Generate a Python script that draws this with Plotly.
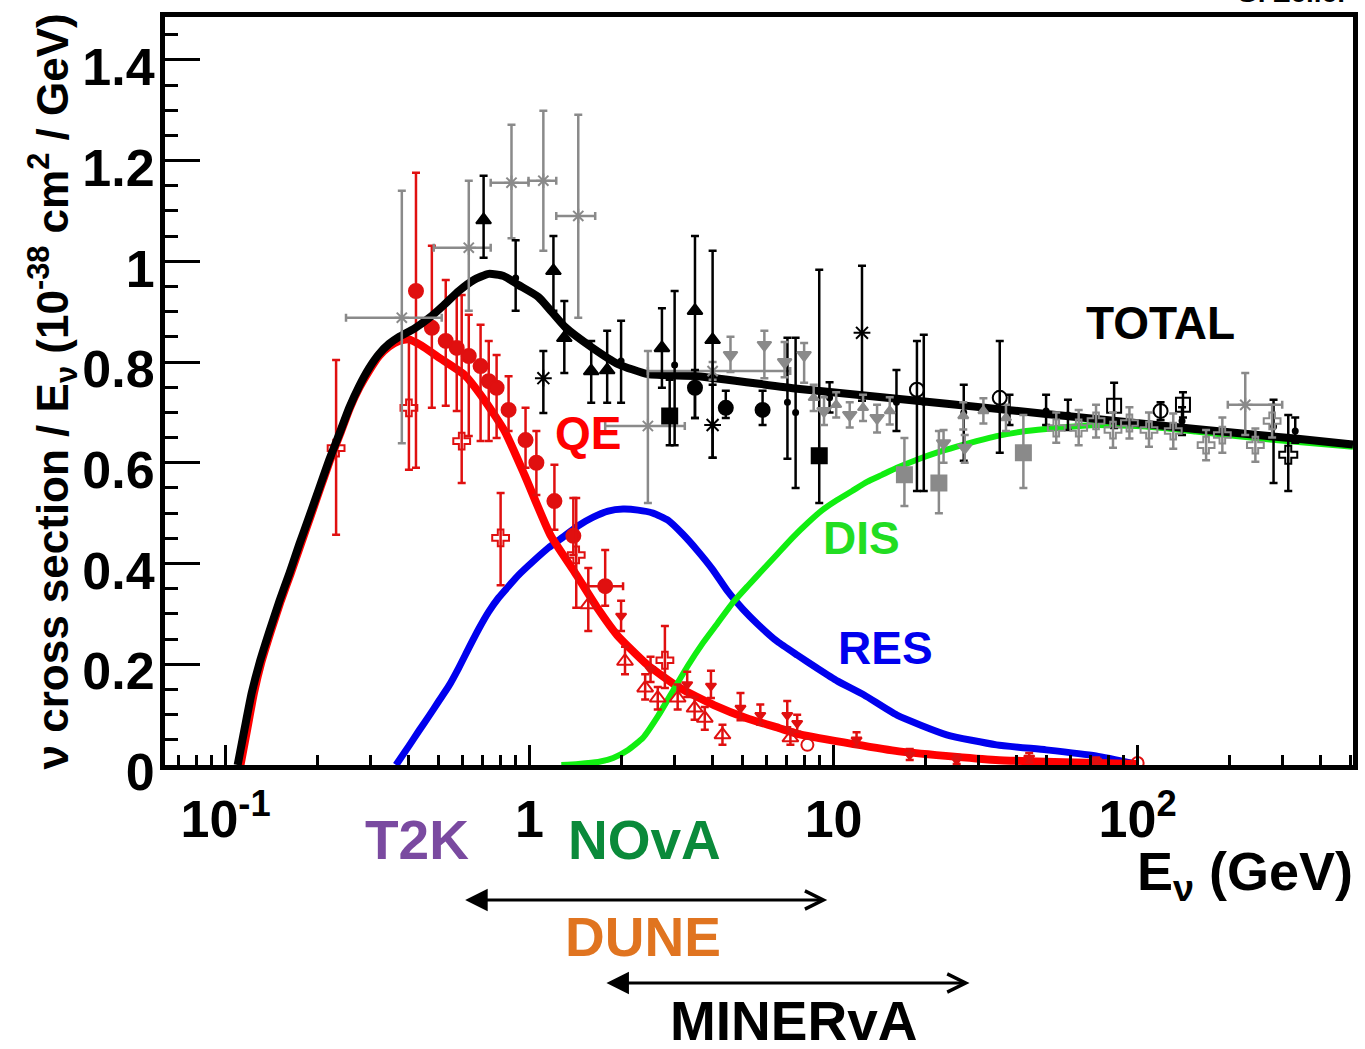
import numpy as np
import plotly.graph_objects as go

FONT = "Liberation Sans"
RED = "#ff0000"
RED_D = "#e01010"
BLUE = "#0000ee"
GREEN = "#11ee11"
GRAY = "#8a8a8a"
BLACK = "#000000"

# ---------------- model predictions (E in GeV, sigma/E in 1e-38 cm^2/GeV) ----------------
total_E = [0.1096, 0.1156, 0.1219, 0.1294, 0.1395, 0.1505, 0.1623, 0.1750, 0.1887, 0.2034,
           0.2194, 0.2366, 0.2551, 0.2750, 0.2966, 0.3198, 0.3449, 0.3720, 0.4166, 0.4665,
           0.5224, 0.5850, 0.6551, 0.7333, 0.8213, 0.9195, 1.07, 1.311, 1.595, 1.955, 2.452,
           3.574, 7.60, 16.16, 34.35, 73.0, 155, 330, 511]
total_xs = [0.0, 0.073, 0.143, 0.203, 0.266, 0.326, 0.381, 0.439, 0.494, 0.550,
            0.606, 0.657, 0.709, 0.752, 0.788, 0.816, 0.836, 0.850, 0.866, 0.887,
            0.913, 0.941, 0.963, 0.975, 0.971, 0.953, 0.929, 0.869, 0.830, 0.796, 0.776,
            0.772, 0.747, 0.727, 0.707, 0.687, 0.667, 0.648, 0.636]

qe_E = [0.1120, 0.1180, 0.1240, 0.1310, 0.1410, 0.1520, 0.1640, 0.1770, 0.1905, 0.2050,
        0.2210, 0.2380, 0.2565, 0.2760, 0.2970, 0.3200, 0.3450, 0.3720, 0.400, 0.440,
        0.50, 0.612, 0.713, 0.828, 0.964, 1.17, 1.40, 1.67, 1.94, 2.44, 3.12, 4.04, 5.18,
        6.64, 7.60, 16.0, 34.1, 72.5, 100]
qe_xs = [0.0, 0.073, 0.143, 0.203, 0.266, 0.326, 0.381, 0.439, 0.494, 0.550,
         0.606, 0.657, 0.709, 0.750, 0.783, 0.812, 0.831, 0.842, 0.845, 0.833,
         0.810, 0.774, 0.723, 0.663, 0.575, 0.457, 0.385, 0.312, 0.258, 0.199, 0.153,
         0.119, 0.093, 0.073, 0.062, 0.028, 0.010, 0.004, 0.002]

res_E = [0.3636, 0.4011, 0.4326, 0.4665, 0.5030, 0.5425, 0.5850, 0.6308, 0.6803, 0.7333,
         0.7908, 0.8530, 0.9195, 1.030, 1.153, 1.291, 1.446, 1.620, 1.813, 2.030, 2.274,
         2.546, 2.851, 3.193, 3.574, 4.003, 4.482, 5.019, 5.620, 6.535, 7.600, 8.836,
         10.27, 12.60, 16.16, 23.55, 34.35, 50.07, 73.02, 98.7]
res_xs = [0.0, 0.038, 0.068, 0.097, 0.127, 0.157, 0.193, 0.232, 0.270, 0.304,
          0.332, 0.355, 0.377, 0.405, 0.431, 0.453, 0.475, 0.492, 0.504, 0.508, 0.506,
          0.500, 0.486, 0.458, 0.425, 0.388, 0.345, 0.310, 0.280, 0.245, 0.218, 0.192,
          0.167, 0.139, 0.099, 0.060, 0.040, 0.030, 0.018, 0.002]

dis_E = [1.272, 1.446, 1.681, 1.883, 2.109, 2.361, 2.644, 2.961, 3.316, 3.713, 4.158, 4.656,
         5.212, 5.837, 6.536, 7.317, 8.196, 9.178, 10.27, 11.51, 12.88, 14.43, 16.16, 18.79,
         21.84, 25.40, 29.53, 34.35, 43.06, 54.00, 73.02, 106.4, 155.3, 283.8, 511]
dis_xs = [0.0, 0.002, 0.006, 0.014, 0.030, 0.054, 0.097, 0.147, 0.197, 0.242, 0.282, 0.322,
          0.355, 0.387, 0.419, 0.451, 0.480, 0.506, 0.526, 0.544, 0.562, 0.576, 0.590, 0.606,
          0.620, 0.632, 0.643, 0.653, 0.663, 0.669, 0.675, 0.672, 0.662, 0.645, 0.632]

# ---------------- QE measurements (red) ----------------
qe_circ_E = [0.423, 0.477, 0.530, 0.576, 0.631, 0.690, 0.734, 0.779, 0.853, 0.970, 1.053, 1.207, 1.393]
qe_circ_y = [0.941, 0.868, 0.842, 0.828, 0.812, 0.792, 0.762, 0.749, 0.705, 0.645, 0.600, 0.524, 0.455]
qe_circ_hi = [1.176, 1.031, 0.963, 0.933, 0.894, 0.874, 0.842, 0.814, 0.772, 0.709, 0.663, 0.596, 0.530]
qe_circ_lo = [0.590, 0.709, 0.713, 0.703, 0.653, 0.643, 0.643, 0.649, 0.663, 0.590, 0.536, 0.467, 0.417]

qe_bin_E = [1.773]
qe_bin_y = [0.355]
qe_bin_hi = [0.427]
qe_bin_lo = [0.316]
qe_bin_Elo = [1.557]
qe_bin_Ehi = [2.03]

qe_cross_E = [0.231, 0.401, 0.598, 0.803, 1.424, 2.787]
qe_cross_y = [0.629, 0.709, 0.643, 0.451, 0.417, 0.208]
qe_cross_hi = [0.804, 0.842, 0.933, 0.540, 0.530, 0.276]
qe_cross_lo = [0.457, 0.586, 0.560, 0.357, 0.312, 0.153]

qe_tri_E = [1.56, 2.06, 2.40, 2.64, 3.07, 3.49, 3.77, 4.31, 7.21]
qe_tri_y = [0.318, 0.206, 0.153, 0.133, 0.133, 0.113, 0.093, 0.060, 0.054]
qe_tri_hi = [0.391, 0.235, 0.180, 0.155, 0.160, 0.135, 0.115, 0.080, 0.070]
qe_tri_lo = [0.266, 0.180, 0.130, 0.110, 0.110, 0.090, 0.070, 0.040, 0.040]

qe_dn_E = [2.00, 2.50, 3.30, 3.95, 4.94, 5.74, 7.04, 7.59, 11.9, 17.8, 25.4, 44.0, 73.1]
qe_dn_y = [0.296, 0.190, 0.160, 0.157, 0.113, 0.099, 0.099, 0.083, 0.050, 0.020, 0.010, 0.014, 0.008]
qe_dn_hi = [0.326, 0.215, 0.185, 0.187, 0.143, 0.120, 0.127, 0.100, 0.065, 0.032, 0.020, 0.024, 0.015]
qe_dn_lo = [0.266, 0.165, 0.135, 0.133, 0.089, 0.080, 0.075, 0.066, 0.036, 0.010, 0.002, 0.005, 0.002]

qe_oc_E = [8.2, 100]
qe_oc_y = [0.040, 0.004]

# ---------------- total cross-section measurements (black / gray) ----------------
tot_gx_E = [0.380, 0.631, 0.872, 1.11, 1.446, 2.45, 4.0, 226]
tot_gx_y = [0.888, 1.027, 1.156, 1.160, 1.090, 0.673, 0.782, 0.715]
tot_gx_hi = [1.140, 1.160, 1.271, 1.299, 1.291, 0.822, 0.800, 0.778]
tot_gx_lo = [0.639, 0.902, 1.046, 1.021, 0.888, 0.520, 0.765, 0.655]
tot_gx_Elo = [0.249, 0.484, 0.745, 0.992, 1.224, 1.773, 2.45, 198]
tot_gx_Ehi = [0.514, 0.745, 0.992, 1.224, 1.644, 3.24, 7.2, 299]

tot_tri_E = [0.706, 1.198, 1.301, 1.595, 1.80, 2.725, 3.50, 4.00]
tot_tri_y = [1.082, 0.981, 0.848, 0.782, 0.784, 0.828, 0.902, 0.844]
tot_tri_hi = [1.170, 1.050, 0.921, 0.842, 0.862, 0.907, 1.050, 1.021]
tot_tri_lo = [1.007, 0.902, 0.778, 0.719, 0.719, 0.749, 0.689, 0.610]

tot_dot_E = [0.90, 2.0, 3.0, 7.05, 7.5, 9.7, 16.1, 19.8, 26.8, 37.9, 50, 59, 140, 280, 330]
tot_dot_y = [0.967, 0.802, 0.794, 0.720, 0.700, 0.729, 0.720, 0.720, 0.700, 0.703, 0.703,
             0.695, 0.683, 0.672, 0.663]
tot_dot_hi = [1.042, 0.882, 0.941, 0.848, 0.848, 0.760, 0.784, 0.854, 0.755, 0.735, 0.735,
              0.725, 0.710, 0.725, 0.690]
tot_dot_lo = [0.902, 0.719, 0.635, 0.608, 0.550, 0.700, 0.663, 0.544, 0.604, 0.675, 0.675,
              0.665, 0.655, 0.560, 0.640]

tot_star_E = [1.11, 4.0, 12.4]
tot_star_y = [0.768, 0.675, 0.858]
tot_star_hi = [0.822, 0.755, 0.991]
tot_star_lo = [0.699, 0.610, 0.723]

tot_circ_E = [3.50, 4.42, 5.84]
tot_circ_y = [0.749, 0.709, 0.705]
tot_circ_hi = [0.784, 0.743, 0.743]
tot_circ_lo = [0.689, 0.689, 0.675]

tot_sq_E = [2.89, 8.97]
tot_sq_y = [0.693, 0.614]
tot_sq_hi = [0.765, 0.983]
tot_sq_lo = [0.635, 0.520]

tot_gsq_E = [17.1, 22.2, 42.1]
tot_gsq_y = [0.576, 0.560, 0.620]
tot_gsq_hi = [0.649, 0.663, 0.695]
tot_gsq_lo = [0.514, 0.500, 0.550]

tot_gdn_E = [4.58, 5.92, 6.9, 8.0, 9.3, 11.3, 13.9, 23.0, 27.0]
tot_gdn_y = [0.814, 0.834, 0.800, 0.814, 0.703, 0.695, 0.689, 0.639, 0.630]
tot_gdn_hi = [0.850, 0.862, 0.840, 0.838, 0.730, 0.720, 0.715, 0.665, 0.655]
tot_gdn_lo = [0.780, 0.768, 0.770, 0.759, 0.675, 0.670, 0.660, 0.600, 0.600]

tot_gup_E = [8.6, 10.2, 12.5, 15.3, 26.7, 31.1, 36.9]
tot_gup_y = [0.729, 0.715, 0.709, 0.703, 0.693, 0.703, 0.689]
tot_gup_hi = [0.755, 0.740, 0.735, 0.730, 0.720, 0.728, 0.715]
tot_gup_lo = [0.703, 0.690, 0.683, 0.676, 0.666, 0.678, 0.663]

tot_oc_E = [18.8, 35.2, 119]
tot_oc_y = [0.745, 0.729, 0.703]
tot_oc_hi = [0.842, 0.842, 0.720]
tot_oc_lo = [0.544, 0.620, 0.685]

tot_osq_E = [83.7, 141]
tot_osq_y = [0.713, 0.715]
tot_osq_hi = [0.759, 0.740]
tot_osq_lo = [0.669, 0.690]

tot_gpl_E = [54, 64, 73, 83, 94, 109, 131, 168, 190, 244, 277]
tot_gpl_y = [0.669, 0.669, 0.683, 0.665, 0.679, 0.665, 0.663, 0.635, 0.655, 0.635, 0.683]
tot_gpl_hi = [0.700, 0.705, 0.715, 0.700, 0.710, 0.700, 0.698, 0.665, 0.690, 0.668, 0.715]
tot_gpl_lo = [0.640, 0.635, 0.650, 0.630, 0.648, 0.632, 0.628, 0.605, 0.620, 0.602, 0.650]

tot_bpl_E = [313]
tot_bpl_y = [0.616]
tot_bpl_hi = [0.695]
tot_bpl_lo = [0.544]

# ---------------- axis labelling ----------------
x_tickvals = [0.1, 1, 10, 100]
x_ticktext = ["10<sup>-1</sup>", "1", "10", "10<sup>2</sup>"]
x_minor = [0.07, 0.08, 0.09, 0.2, 0.3, 0.4, 0.5, 0.6, 0.7, 0.8, 0.9,
           2, 3, 4, 5, 6, 7, 8, 9, 20, 30, 40, 50, 60, 70, 80, 90, 200, 300, 400, 500]

# experiment energy ranges (GeV) shown as arrows below the axis
dune_range = (0.607, 9.53)
minerva_range = (1.77, 28.0)

fig = go.Figure()


def curve(E, xs, color, width):
    fig.add_trace(go.Scatter(x=E, y=xs, mode="lines", hoverinfo="skip",
                             line=dict(color=color, width=width, shape="spline", smoothing=0.5)))


def points(E, y, hi, lo, color, symbol, size, Elo=None, Ehi=None, lw=2.5, mlw=2):
    E = np.asarray(E, float)
    y = np.asarray(y, float)
    err_y = dict(type="data", symmetric=False, array=np.asarray(hi) - y,
                 arrayminus=y - np.asarray(lo), color=color, thickness=lw, width=4)
    err_x = None
    if Elo is not None:
        err_x = dict(type="data", symmetric=False, array=np.asarray(Ehi) - E,
                     arrayminus=E - np.asarray(Elo), color=color, thickness=lw, width=4)
    fig.add_trace(go.Scatter(x=E, y=y, mode="markers", error_y=err_y, error_x=err_x,
                             marker=dict(symbol=symbol, size=size, color=color,
                                         line=dict(color=color, width=mlw))))


# model curves underneath
curve(res_E, res_xs, BLUE, 7)
curve(qe_E, qe_xs, RED, 8)
curve(dis_E, dis_xs, GREEN, 6)

# QE data
points(qe_circ_E, qe_circ_y, qe_circ_hi, qe_circ_lo, RED_D, "circle", 14)
points(qe_bin_E, qe_bin_y, qe_bin_hi, qe_bin_lo, RED_D, "circle", 14, qe_bin_Elo, qe_bin_Ehi)
points(qe_cross_E, qe_cross_y, qe_cross_hi, qe_cross_lo, RED_D, "cross-open", 14)
points(qe_tri_E, qe_tri_y, qe_tri_hi, qe_tri_lo, RED_D, "triangle-up-open", 14)
points(qe_dn_E, qe_dn_y, qe_dn_hi, qe_dn_lo, RED_D, "triangle-down", 9)
fig.add_trace(go.Scatter(x=qe_oc_E, y=qe_oc_y, mode="markers",
                         marker=dict(symbol="circle-open", size=12, color=RED_D,
                                     line=dict(color=RED_D, width=2))))

# total prediction
curve(total_E, total_xs, BLACK, 8)

# total cross-section data
points(tot_gx_E, tot_gx_y, tot_gx_hi, tot_gx_lo, GRAY, "asterisk-open", 12, tot_gx_Elo, tot_gx_Ehi)
points(tot_tri_E, tot_tri_y, tot_tri_hi, tot_tri_lo, BLACK, "triangle-up", 13)
points(tot_dot_E, tot_dot_y, tot_dot_hi, tot_dot_lo, BLACK, "circle", 5)
points(tot_star_E, tot_star_y, tot_star_hi, tot_star_lo, BLACK, "asterisk-open", 14)
points(tot_circ_E, tot_circ_y, tot_circ_hi, tot_circ_lo, BLACK, "circle", 14)
points(tot_sq_E, tot_sq_y, tot_sq_hi, tot_sq_lo, BLACK, "square", 15)
points(tot_gsq_E, tot_gsq_y, tot_gsq_hi, tot_gsq_lo, GRAY, "square", 15)
points(tot_gdn_E, tot_gdn_y, tot_gdn_hi, tot_gdn_lo, GRAY, "triangle-down", 12)
points(tot_gup_E, tot_gup_y, tot_gup_hi, tot_gup_lo, GRAY, "triangle-up", 9)
points(tot_oc_E, tot_oc_y, tot_oc_hi, tot_oc_lo, BLACK, "circle-open", 14)
points(tot_osq_E, tot_osq_y, tot_osq_hi, tot_osq_lo, BLACK, "square-open", 14)
points(tot_gpl_E, tot_gpl_y, tot_gpl_hi, tot_gpl_lo, GRAY, "cross-open", 14)
points(tot_bpl_E, tot_bpl_y, tot_bpl_hi, tot_bpl_lo, BLACK, "cross-open", 15)

bold = dict(family=FONT, weight="bold")

fig.update_layout(
    width=1365, height=1049,
    margin=dict(l=165, r=7, t=17, b=284),
    paper_bgcolor="white", plot_bgcolor="white",
    showlegend=False,
    font=dict(family=FONT, color="black"),
    xaxis=dict(
        type="log", range=[-1.1992, 2.7085],
        showline=True, linewidth=5, linecolor="black", mirror=True,
        showgrid=False, zeroline=False,
        ticks="inside", ticklen=20, tickwidth=3, tickcolor="black",
        tickvals=x_tickvals, ticktext=x_ticktext,
        tickfont=dict(size=52, color="black", **bold), ticklabelstandoff=5,
        minor=dict(tickvals=x_minor, ticks="inside", ticklen=10, tickwidth=3,
                   tickcolor="black", showgrid=False),
    ),
    yaxis=dict(
        range=[0, 1.485],
        showline=True, linewidth=5, linecolor="black", mirror=True,
        showgrid=False, zeroline=False,
        ticks="inside", ticklen=35, tickwidth=3, tickcolor="black",
        tick0=0, dtick=0.2,
        tickfont=dict(size=52, color="black", **bold),
        ticklabelstandoff=-5, ticklabelshift=7,
        minor=dict(dtick=0.05, tick0=0, ticks="inside", ticklen=13, tickwidth=3,
                   tickcolor="black", showgrid=False),
    ),
)

# process labels inside the frame
for text, E, yv, color in [("TOTAL", 119, 0.878, BLACK), ("QE", 1.56, 0.659, RED),
                           ("DIS", 12.4, 0.451, "#22dd22"), ("RES", 14.8, 0.233, BLUE)]:
    fig.add_annotation(x=np.log10(E), y=yv, xref="x", yref="y", text=text, showarrow=False,
                       font=dict(size=46, color=color, **bold))

# axis titles
fig.add_annotation(x=-0.0947, y=0.5, xref="paper", yref="paper", textangle=-90,
                   text="ν cross section / E<sub>ν</sub> (10<sup>-38</sup> cm<sup>2</sup> / GeV)",
                   showarrow=False, xanchor="center", yanchor="middle",
                   font=dict(size=44, color="black", **bold))
fig.add_annotation(x=1.0017, y=-0.147, xref="paper", yref="paper",
                   text="E<sub>ν</sub> (GeV)", showarrow=False, xanchor="right", yanchor="middle",
                   font=dict(size=54, color="black", **bold))
fig.add_annotation(x=0.9975, y=1.010, xref="paper", yref="paper", text="G. Zeller",
                   showarrow=False, xanchor="right", yanchor="bottom",
                   font=dict(size=28, color="black", **bold))

# experiments
for text, px, py, color in [("T2K", 0.2121, -0.1003, "#7a4aa0"), ("NOvA", 0.4032, -0.1003, "#0a8a3a"),
                            ("DUNE", 0.4023, -0.2300, "#e07420"), ("MINERvA", 0.5298, -0.3420, BLACK)]:
    fig.add_annotation(x=px, y=py, xref="paper", yref="paper", text=text, showarrow=False,
                       xanchor="center", yanchor="middle", font=dict(size=55, color=color, **bold))

for (e0, e1), py in [(dune_range, -0.1805), (minerva_range, -0.2914)]:
    fig.add_annotation(x=np.log10(e1), y=py, xref="x", yref="paper",
                       ax=np.log10(e0), ay=0, axref="x", ayref="pixel",
                       text="", showarrow=True, arrowside="end+start",
                       arrowhead=5, arrowsize=1.2, startarrowhead=2, startarrowsize=1.5,
                       arrowwidth=3, arrowcolor="black", standoff=0, startstandoff=0)

fig.write_html("out.html")
